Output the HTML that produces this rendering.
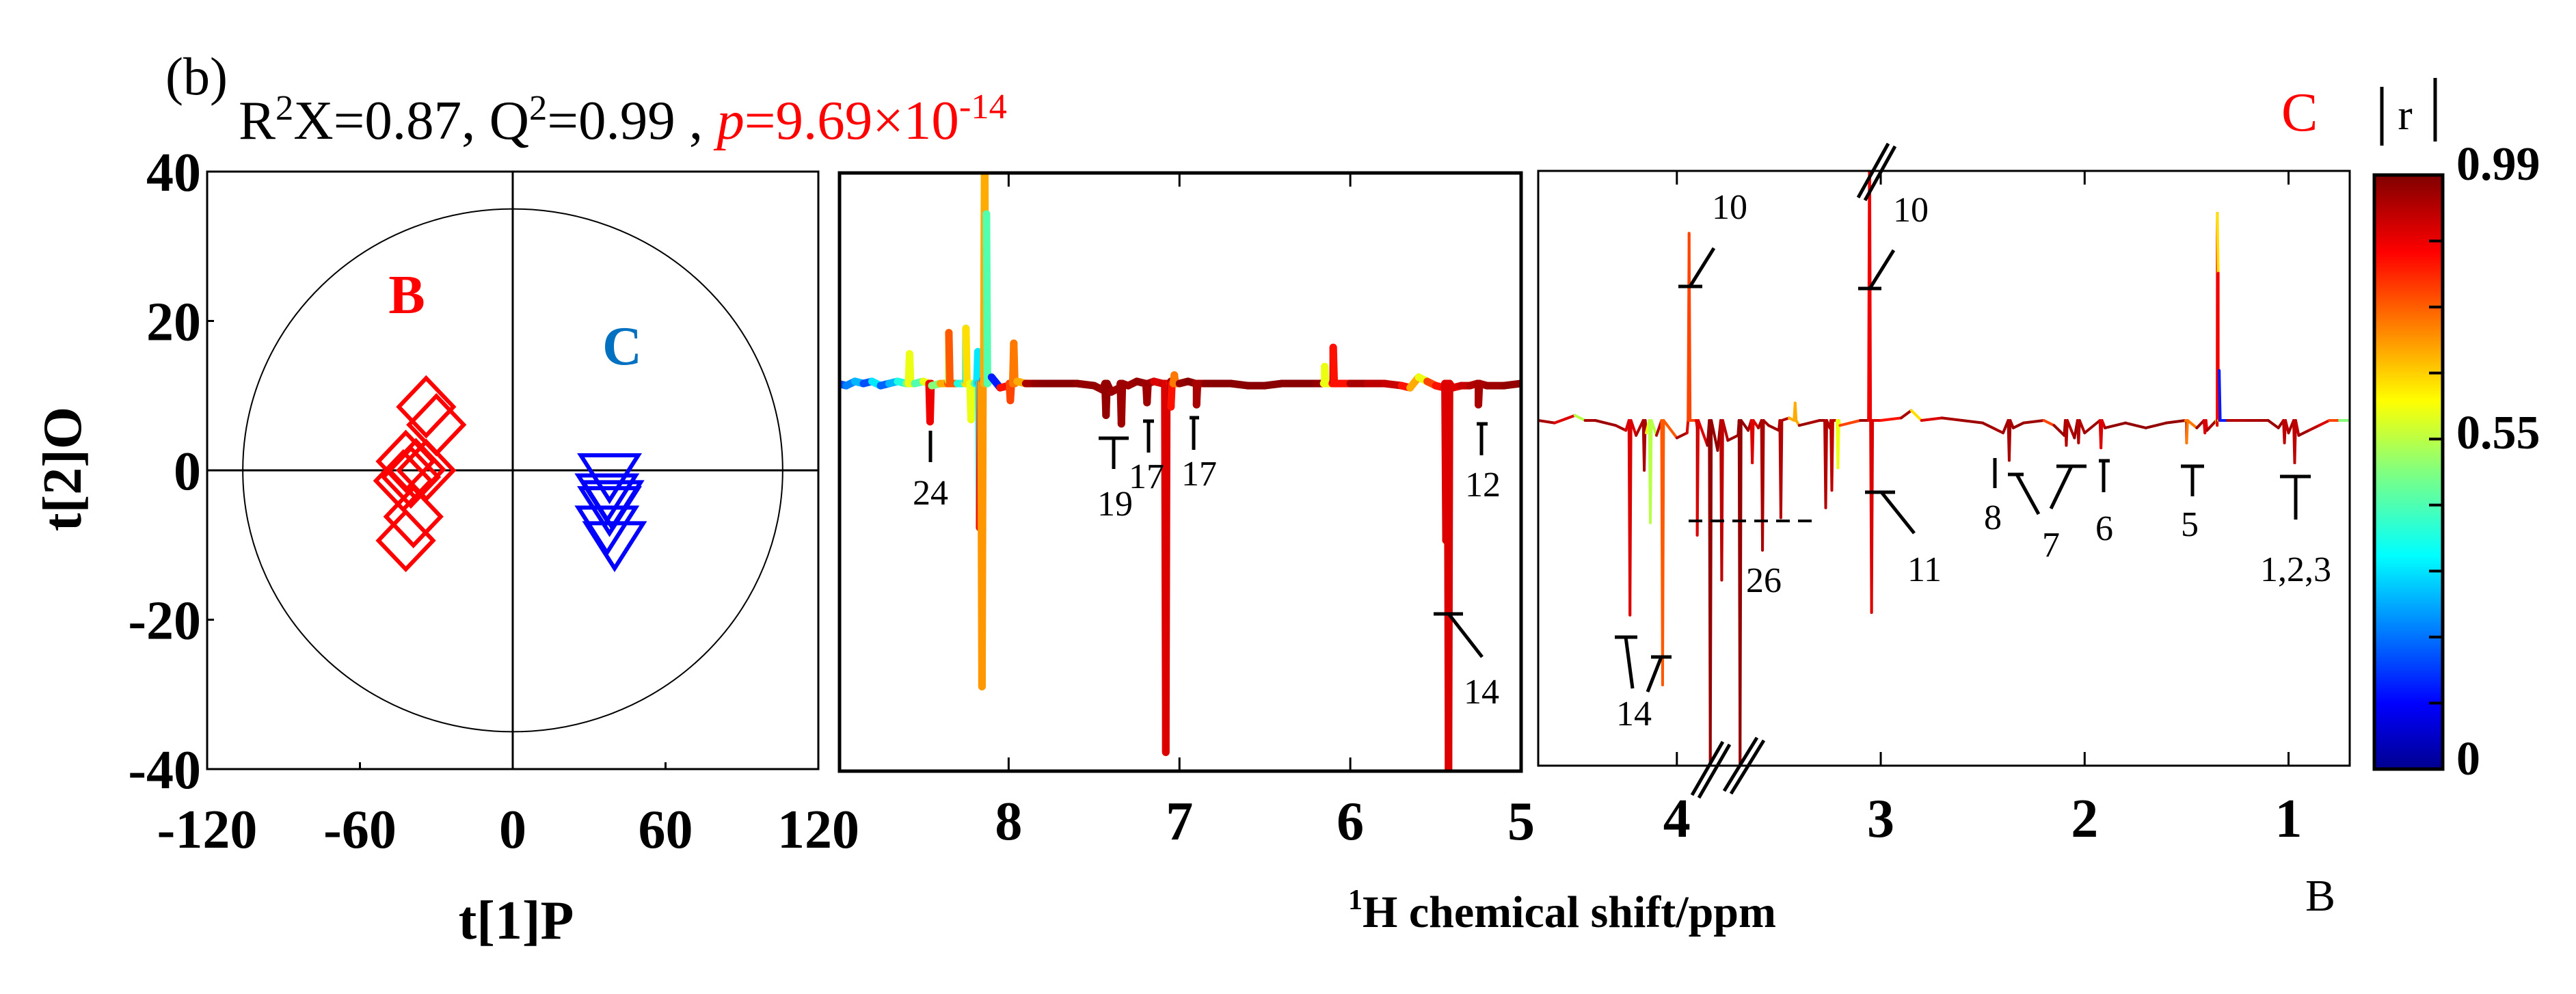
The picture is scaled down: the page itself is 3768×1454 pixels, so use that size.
<!DOCTYPE html>
<html><head><meta charset="utf-8"><style>
html,body{margin:0;padding:0;background:#fff;}
svg{display:block;font-family:"Liberation Serif",serif;}
</style></head><body>
<svg id="fig" width="3768" height="1454" viewBox="0 0 3768 1454" xmlns="http://www.w3.org/2000/svg">
<defs>
<linearGradient id="jet" x1="0" y1="1" x2="0" y2="0">
<stop offset="0" stop-color="#00008f"/><stop offset="0.11" stop-color="#0000ff"/><stop offset="0.36" stop-color="#00ffff"/><stop offset="0.5" stop-color="#80ff80"/><stop offset="0.62" stop-color="#ffff00"/><stop offset="0.87" stop-color="#ff0000"/><stop offset="1" stop-color="#800000"/>
</linearGradient>
<clipPath id="clip1"><rect x="1228" y="253" width="997" height="875"/></clipPath>
<clipPath id="clip2"><rect x="2250" y="250" width="1187" height="870"/></clipPath>
</defs>

<text x="242" y="138" font-size="78">(b)</text>
<text x="349" y="203" font-size="80" textLength="1124" lengthAdjust="spacingAndGlyphs">R<tspan dy="-28" font-size="52">2</tspan><tspan dy="28">X=0.87, Q</tspan><tspan dy="-28" font-size="52">2</tspan><tspan dy="28">=0.99 , </tspan><tspan fill="#ff0000" font-style="italic">p</tspan><tspan fill="#ff0000">=9.69×10</tspan><tspan fill="#ff0000" dy="-30" font-size="52">-14</tspan></text>

<g id="scatter"></g>
<g id="spec1"></g>
<g id="spec2"></g>

<text x="755" y="1373" font-size="80" font-weight="bold" text-anchor="middle">t[1]P</text>
<text transform="translate(118,686) rotate(-90)" font-size="80" font-weight="bold" text-anchor="middle">t[2]O</text>
<text x="1972" y="1356" font-size="66" font-weight="bold"><tspan font-size="42" dy="-26">1</tspan><tspan dy="26">H chemical shift/ppm</tspan></text>
<text x="3372" y="1332" font-size="66">B</text>
<text x="3337" y="191" font-size="80" fill="#ff0000">C</text>

<g>
<rect x="3473" y="256" width="100" height="869" fill="url(#jet)" stroke="#000" stroke-width="5"/>
<g id="cbticks"></g>
<line x1="3484" y1="127" x2="3484" y2="213" stroke="#000" stroke-width="5"/>
<line x1="3562" y1="114" x2="3562" y2="207" stroke="#000" stroke-width="5"/>
<text x="3518" y="189" font-size="64" text-anchor="middle">r</text>
<text x="3593" y="263" font-size="70" font-weight="bold">0.99</text>
<text x="3593" y="656" font-size="70" font-weight="bold">0.55</text>
<text x="3593" y="1133" font-size="70" font-weight="bold">0</text>
</g>
</svg>
<script>
// ---------- scores plot data ----------
const groupBx = [-34, -30, -42, -38, -34, -43, -40, -39, -42];
const groupBy = [8.5, 6.1, 1.2, 0.1, 0.0, -1.4, -0.9, -6.2, -9.4];
const groupCx = [38, 37, 39, 38, 37, 40];
const groupCy = [0.0, -2.7, -3.6, -4.4, -7.0, -9.1];
const scatterXTicks = [-120, -60, 0, 60, 120];
const scatterYTicks = [40, 20, 0, -20, -40];
const ellipseRx = 106, ellipseRy = 35;

// ---------- spectrum data (ppm, intensity, |r|) ----------
const base1Ppm = [9.0, 8.95, 8.9, 8.85, 8.8, 8.75, 8.7, 8.65, 8.6, 8.55, 8.5, 8.45, 8.4, 8.35, 8.3, 8.25, 8.2, 8.15, 8.1, 8.05, 8.0, 7.95, 7.9, 7.85, 7.8, 7.7, 7.6, 7.5, 7.45, 7.4, 7.35, 7.3, 7.25, 7.2, 7.15, 7.1, 7.05, 7.0, 6.95, 6.9, 6.85, 6.8, 6.7, 6.6, 6.5, 6.4, 6.3, 6.2, 6.15, 6.1, 6.0, 5.9, 5.8, 5.7, 5.65, 5.6, 5.55, 5.5, 5.45, 5.4, 5.35, 5.3, 5.25, 5.2, 5.1, 5.0];
const base1Val = [0, -1, 1, 0, 1, -1, 0, 1, 0, 0, 1, -1, 0, 1, 0, 1, 0, 2, 3, -2, -1, 1, 0, 0, 0, 0, 0, -1, -3, -4, -2, -1, 1, 0, 1, 0, 1, 0, 1, -1, 0, 0, 0, -1, -1, 0, 0, 0, 0, 1, 0, 0, 0, -1, -2, 3, 1, -1, -2, -2, -1, -1, -1, -1, -1, 0];
const base1R = [0.2, 0.25, 0.3, 0.2, 0.35, 0.22, 0.3, 0.4, 0.5, 0.45, 0.6, 0.5, 0.7, 0.55, 0.4, 0.35, 0.45, 0.25, 0.15, 0.85, 0.9, 0.7, 0.95, 0.97, 0.98, 0.98, 0.97, 0.97, 0.96, 0.96, 0.97, 0.96, 0.97, 0.95, 0.9, 0.92, 0.95, 0.97, 0.98, 0.97, 0.98, 0.98, 0.98, 0.98, 0.98, 0.98, 0.98, 0.97, 0.6, 0.95, 0.95, 0.93, 0.92, 0.85, 0.7, 0.6, 0.8, 0.85, 0.9, 0.9, 0.92, 0.94, 0.95, 0.96, 0.97, 0.97];
const peak1Ppm = [8.58, 8.46, 8.35, 8.25, 8.22, 8.18, 8.17, 8.156, 8.14, 8.13, 7.99, 7.97, 7.43, 7.34, 7.19, 7.08, 7.05, 7.03, 6.90, 6.15, 6.10, 5.44, 5.425, 5.25];
const peak1Val = [14, -18, 24, 26, -17, 15, -68, -143, 120, 80, -8, 19, -15, -19, -9, -174, -11, 4, -10, 8, 17, -74, -182, -10];
const peak1R = [0.6, 0.88, 0.78, 0.65, 0.6, 0.35, 0.85, 0.72, 0.7, 0.45, 0.8, 0.75, 0.97, 0.96, 0.96, 0.9, 0.85, 0.75, 0.95, 0.6, 0.85, 0.9, 0.9, 0.95];

const base2Ppm = [4.68, 4.6, 4.5, 4.45, 4.4, 4.3, 4.25, 4.2, 4.15, 4.1, 4.0, 3.95, 3.9, 3.85, 3.8, 3.75, 3.7, 3.65, 3.6, 3.55, 3.5, 3.45, 3.4, 3.35, 3.3, 3.25, 3.2, 3.1, 3.0, 2.9, 2.85, 2.8, 2.7, 2.6, 2.5, 2.45, 2.4, 2.35, 2.3, 2.2, 2.15, 2.1, 2.05, 2.0, 1.9, 1.8, 1.7, 1.6, 1.5, 1.45, 1.4, 1.35, 1.3, 1.2, 1.1, 1.05, 1.0, 0.95, 0.9, 0.85, 0.8, 0.75, 0.7];
const base2Val = [0, -1, 2, 0, 0, -2, -4, -6, -5, -6, -7, -5, -3, -10, -12, -8, -6, -4, -3, -2, -4, 1, -2, -1, 0, -3, -2, 0, 0, 1, 4, 0, 1, 0, -1, -3, -5, -3, -1, 0, -2, -6, -7, -5, -3, -1, -3, -1, -1, -3, -4, -2, 0, 0, 0, -3, -5, -6, -4, -2, 0, 0, 0];
const base2R = [0.95, 0.9, 0.55, 0.95, 0.96, 0.95, 0.9, 0.94, 0.6, 0.93, 0.95, 0.9, 0.96, 0.97, 0.97, 0.96, 0.96, 0.95, 0.95, 0.96, 0.96, 0.7, 0.96, 0.95, 0.96, 0.95, 0.8, 0.96, 0.85, 0.95, 0.65, 0.9, 0.95, 0.96, 0.96, 0.95, 0.96, 0.97, 0.96, 0.8, 0.96, 0.97, 0.97, 0.96, 0.97, 0.97, 0.97, 0.97, 0.96, 0.96, 0.95, 0.9, 0.94, 0.95, 0.96, 0.96, 0.95, 0.96, 0.93, 0.9, 0.8, 0.5, 0.45];
const peak2Ppm = [4.23, 4.16, 4.13, 4.07, 3.94, 3.90, 3.836, 3.78, 3.69, 3.63, 3.58, 3.49, 3.42, 3.27, 3.24, 3.21, 3.055, 3.045, 2.37, 2.09, 2.03, 1.92, 1.50, 1.41, 1.349, 1.345, 1.340, 0.97, 1.02];
const peak2Val = [-78, -20, -41, -106, 75, -46, -138, -64, -138, -17, -52, -39, 7, -35, -28, -19, 120, -77, -16, -10, -9, -11, -9, -5, 83, 59, 20, -17, -9];
const peak2R = [0.9, 0.95, 0.55, 0.78, 0.8, 0.9, 0.97, 0.93, 0.97, 0.9, 0.95, 0.94, 0.7, 0.94, 0.93, 0.6, 0.88, 0.9, 0.95, 0.94, 0.94, 0.9, 0.75, 0.9, 0.65, 0.88, 0.15, 0.93, 0.93];

// ticks
const spec1Ticks = [8, 7, 6, 5];
const spec2Ticks = [4, 3, 2, 1];
const cbTicks = [0.11, 0.22, 0.33, 0.44, 0.55, 0.66, 0.77, 0.88];

const NS = 'http://www.w3.org/2000/svg';
function mk(tag, attrs, parent) {
  const e = document.createElementNS(NS, tag);
  for (const k in attrs) e.setAttribute(k, attrs[k]);
  parent.appendChild(e);
  return e;
}
function jet(v) {
  const t = Math.max(0, Math.min(1, v / 0.99));
  const f = x => Math.max(0, Math.min(1, x));
  const r = f(1.5 - Math.abs(4 * t - 3));
  const g = f(1.5 - Math.abs(4 * t - 2));
  const b = f(1.5 - Math.abs(4 * t - 1));
  return 'rgb(' + Math.round(r * 255) + ',' + Math.round(g * 255) + ',' + Math.round(b * 255) + ')';
}

// ---------- scores plot ----------
(function () {
  const g = document.getElementById('scatter');
  const L = 303, R = 1197, T = 251, B = 1125;
  const sx = v => L + (v + 120) / 240 * (R - L);
  const sy = v => T + (40 - v) / 80 * (B - T);
  let e;
  e = mk('rect', { x: L, y: T, width: R - L, height: B - T, fill: 'none', stroke: '#000', 'stroke-width': 3 }, g);
  
  
  e = mk('line', { x1: sx(0), y1: T, x2: sx(0), y2: B, stroke: '#000', 'stroke-width': 3 }, g);
  
  
  e = mk('line', { x1: L, y1: sy(0), x2: R, y2: sy(0), stroke: '#000', 'stroke-width': 3 }, g);
  
  
  e = mk('ellipse', { cx: sx(0), cy: sy(0), rx: sx(ellipseRx) - sx(0), ry: sy(0) - sy(ellipseRy), fill: 'none', stroke: '#000', 'stroke-width': 2 }, g);
  
  
  scatterXTicks.forEach(v => {
    const x = sx(v);
    e = mk('line', { x1: x, y1: B, x2: x, y2: B - 10, stroke: '#000', 'stroke-width': 3 }, g);
    
    
    e = mk('text', { x: x, y: 1240, 'font-size': 80, 'font-weight': 'bold', 'text-anchor': 'middle' }, g);
    e.textContent = String(v);
    
    
  });
  scatterYTicks.forEach(v => {
    const y = sy(v);
    e = mk('line', { x1: L, y1: y, x2: L + 10, y2: y, stroke: '#000', 'stroke-width': 3 }, g);
    
    
    e = mk('text', { x: 294, y: y + 28, 'font-size': 80, 'font-weight': 'bold', 'text-anchor': 'end' }, g);
    e.textContent = String(v);
    
    
  });
  groupBx.forEach((v, i) => {
    const cx = sx(v), cy = sy(groupBy[i]);
    e = mk('polygon', { points: [cx, cy - 42, cx + 40, cy, cx, cy + 42, cx - 40, cy].join(' '), fill: 'none', stroke: '#ff0000', 'stroke-width': 6 }, g);
    
    
  });
  groupCx.forEach((v, i) => {
    const cx = sx(v), cy = sy(groupCy[i]);
    e = mk('polygon', { points: [cx - 42, cy - 22, cx + 42, cy - 22, cx, cy + 44].join(' '), fill: 'none', stroke: '#0000ff', 'stroke-width': 6 }, g);
    
    
  });
  e = mk('text', { x: 595, y: 458, 'font-size': 80, 'font-weight': 'bold', 'text-anchor': 'middle', fill: '#ff0000' }, g);
  e.textContent = 'B';
  
  
  e = mk('text', { x: 910, y: 533, 'font-size': 80, 'font-weight': 'bold', 'text-anchor': 'middle', fill: '#0070c0' }, g);
  e.textContent = 'C';
  
  
})();

// ---------- spectrum builder ----------
function buildPoints(bp, bv, br, pp, pv, pr, w) {
  const pts = bp.map((p, i) => ({ p: p, v: bv[i], r: br[i] }));
  pp.forEach((p, i) => {
    pts.push({ p: p + w, v: 0, r: pr[i] });
    pts.push({ p: p, v: pv[i], r: pr[i] });
    pts.push({ p: p - w, v: 0, r: pr[i] });
  });
  pts.sort((a, b) => b.p - a.p);
  return pts;
}
function drawSpectrum(gid, clip, L, R, T, B, pL, pR, base, ppu, lw, pts, ticks, tickBase, frameW) {
  const g = document.getElementById(gid);
  const sx = p => L + (pL - p) / (pL - pR) * (R - L);
  const sy = v => base - v * ppu;
  let e;
  const lg = mk('g', { 'clip-path': 'url(#' + clip + ')' }, g);
  for (let i = 0; i < pts.length - 1; i++) {
    e = mk('line', { x1: sx(pts[i].p), y1: sy(pts[i].v), x2: sx(pts[i + 1].p), y2: sy(pts[i + 1].v), stroke: jet(pts[i].r), 'stroke-width': lw, 'stroke-linecap': 'round' }, lg);
    
    
  }
  e = mk('rect', { x: L, y: T, width: R - L, height: B - T, fill: 'none', stroke: '#000', 'stroke-width': frameW }, g);
  
  
  ticks.forEach(t => {
    const x = sx(t);
    e = mk('line', { x1: x, y1: T, x2: x, y2: T + 20, stroke: '#000', 'stroke-width': 3 }, g);
    
    
    e = mk('line', { x1: x, y1: B, x2: x, y2: B - 20, stroke: '#000', 'stroke-width': 3 }, g);
    
    
    e = mk('text', { x: x, y: tickBase, 'font-size': 80, 'font-weight': 'bold', 'text-anchor': 'middle' }, g);
    e.textContent = String(t);
    
    
  });
}
drawSpectrum('spec1', 'clip1', 1228, 2225, 253, 1128, 8.99, 5.0, 561, 3.1, 11,
  buildPoints(base1Ppm, base1Val, base1R, peak1Ppm, peak1Val, peak1R, 0.006), spec1Ticks, 1228, 5);
drawSpectrum('spec2', 'clip2', 2250, 3437, 250, 1120, 4.68, 0.70, 615, 3.65, 4,
  buildPoints(base2Ppm, base2Val, base2R, peak2Ppm, peak2Val, peak2R, 0.005), spec2Ticks, 1224, 3);

// ---------- annotations ----------
(function () {
  const svg = document.getElementById('fig');
  const ann = mk('g', { stroke: '#000', 'stroke-width': 5, fill: 'none' }, svg);
  
  
  const lines = [
    [1361, 630, 1361, 676], [1607, 641, 1651, 641], [1629, 641, 1629, 686], [1672, 616, 1688, 616], [1680, 616, 1680, 662],
    [1740, 611, 1754, 611], [1746, 611, 1746, 658], [2160, 620, 2176, 620], [2167, 620, 2167, 666],
    [2097, 898, 2140, 898], [2119, 898, 2168, 961],
    [2455, 419, 2490, 419], [2472, 419, 2507, 363], [2718, 422, 2752, 422], [2735, 422, 2770, 366],
    [2728, 720, 2772, 720], [2752, 720, 2800, 780],
    [2362, 932, 2395, 932], [2378, 932, 2388, 1007], [2415, 961, 2445, 961], [2430, 961, 2410, 1012],
    [2918, 670, 2918, 714], [2937, 694, 2960, 694], [2950, 694, 2982, 752], [3008, 682, 3052, 682], [3030, 682, 3000, 744],
    [3070, 674, 3086, 674], [3077, 674, 3077, 720], [3190, 682, 3224, 682], [3207, 682, 3207, 726], [3335, 697, 3380, 697], [3358, 697, 3358, 760],
    [2718, 289, 2762, 210], [2728, 293, 2772, 214], [2475, 1163, 2520, 1085], [2485, 1167, 2530, 1089], [2522, 1157, 2570, 1079], [2532, 1161, 2580, 1083]
  ];
  lines.forEach(l => {
    const e = mk('line', { x1: l[0], y1: l[1], x2: l[2], y2: l[3] }, ann);
    
    
  });
  const d = mk('line', { x1: 2470, y1: 762, x2: 2650, y2: 762, 'stroke-dasharray': '20 12', 'stroke-width': 4 }, ann);
  
  
  const labels = [
    ['24', 1361, 738], ['19', 1631, 754], ['17', 1677, 714], ['17', 1754, 710], ['12', 2169, 726], ['14', 2167, 1029],
    ['10', 2530, 320], ['10', 2795, 324], ['11', 2815, 850], ['26', 2580, 866], ['14', 2390, 1061],
    ['8', 2915, 774], ['7', 3000, 814], ['6', 3078, 790], ['5', 3203, 784], ['1,2,3', 3358, 850]
  ];
  labels.forEach(t => {
    const e = mk('text', { x: t[1], y: t[2], 'font-size': 52, 'text-anchor': 'middle', fill: '#000', stroke: 'none' }, svg);
    e.textContent = t[0];
    
    
  });
  const cb = document.getElementById('cbticks');
  cbTicks.forEach(v => {
    const y = 1125 - v / 0.99 * 869;
    const e = mk('line', { x1: 3573, y1: y, x2: 3553, y2: y, stroke: '#000', 'stroke-width': 4 }, cb);
    
    
  });
})();
</script>
</body></html>
